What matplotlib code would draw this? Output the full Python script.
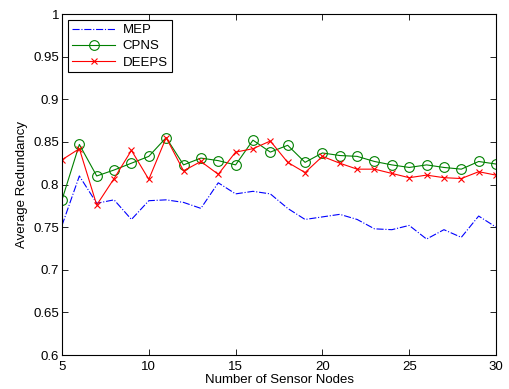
import numpy as np
import matplotlib
matplotlib.use("Agg")
import matplotlib.pyplot as plt

plt.rcParams['font.family'] = ['Liberation Sans', 'DejaVu Sans']

# number of sensor nodes
nodes = list(range(5, 31))

# average redundancy
mep = [0.752, 0.810, 0.778, 0.782, 0.759, 0.781, 0.782, 0.779, 0.772, 0.802,
       0.789, 0.792, 0.789, 0.772, 0.759, 0.762, 0.765, 0.759, 0.748, 0.747,
       0.752, 0.736, 0.747, 0.738, 0.763, 0.750]
cpns = [0.782, 0.847, 0.810, 0.817, 0.825, 0.833, 0.855, 0.823, 0.831, 0.828,
        0.823, 0.852, 0.838, 0.846, 0.826, 0.837, 0.834, 0.833, 0.827, 0.823,
        0.820, 0.823, 0.820, 0.818, 0.827, 0.824]
deeps = [0.829, 0.842, 0.776, 0.807, 0.840, 0.806, 0.855, 0.816, 0.827, 0.812,
         0.838, 0.842, 0.851, 0.826, 0.814, 0.833, 0.825, 0.818, 0.818, 0.813,
         0.808, 0.811, 0.808, 0.807, 0.815, 0.811]

fs = 9.5

fig = plt.figure(figsize=(5.09, 3.89), dpi=100)
ax = fig.add_axes([0.1218, 0.0874, 0.8527, 0.8766])

ax.plot(nodes, mep, color='#0000ff', linestyle='-.', linewidth=0.8, label='MEP')
ax.plot(nodes, cpns, color='#008000', linestyle='-', linewidth=0.8, marker='o',
        markersize=7, markerfacecolor='none', markeredgewidth=0.8, label='CPNS')
ax.plot(nodes, deeps, color='#ff0000', linestyle='-', linewidth=0.8, marker='x',
        markersize=5, markeredgewidth=0.8, label='DEEPS')

ax.set_xlim(5, 30)
ax.set_ylim(0.6, 1)
ax.set_xticks([5, 10, 15, 20, 25, 30])
yt = [0.6, 0.65, 0.7, 0.75, 0.8, 0.85, 0.9, 0.95, 1]
ax.set_yticks(yt)
ax.set_yticklabels(['%g' % v for v in yt])
ax.tick_params(direction='in', top=True, right=True, labelsize=fs, length=4, width=0.6)
ax.tick_params(axis='y', pad=2)
ax.tick_params(axis='x', pad=4)
for s in ax.spines.values():
    s.set_linewidth(0.8)

ax.set_xlabel('Number of Sensor Nodes', fontsize=fs, labelpad=1)
ax.set_ylabel('Average Redundancy', fontsize=fs, labelpad=4)

leg = ax.legend(loc='upper left', fontsize=fs, fancybox=False, framealpha=1,
                edgecolor='black', borderaxespad=0.45, handlelength=3.3,
                labelspacing=0.3, borderpad=0.3, handletextpad=0.55)
leg.get_frame().set_linewidth(0.8)

fig.savefig('out.png', dpi=100)
